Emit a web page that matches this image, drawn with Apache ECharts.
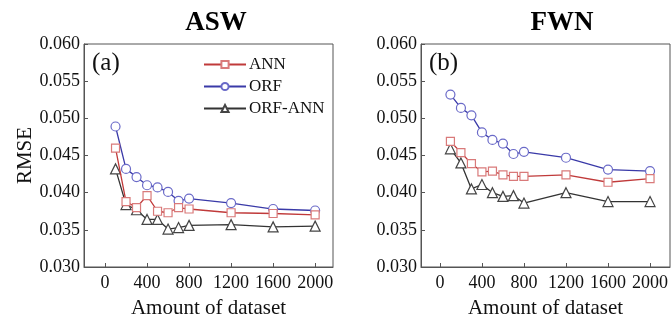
<!DOCTYPE html>
<html><head><meta charset="utf-8">
<script src="https://cdn.jsdelivr.net/npm/echarts@6/dist/echarts.min.js"></script>
<style>html,body{margin:0;padding:0;background:#fff}#c{width:671px;height:322px}</style>
</head><body><div id="c"></div>
<script>
var xValues = [100, 200, 300, 400, 500, 600, 700, 800, 1200, 1600, 2000];
var xTicks = [0, 400, 800, 1200, 1600, 2000];
var yTicks = [0.030, 0.035, 0.040, 0.045, 0.050, 0.055, 0.060];
var panelTitles = ['ASW', 'FWN'];
var panelTags = ['(a)', '(b)'];
var seriesNames = ['ANN', 'ORF', 'ORF-ANN'];
var aswANN    = [0.0460, 0.0388, 0.0380, 0.0396, 0.0375, 0.0373, 0.0380, 0.0378, 0.0373, 0.0372, 0.0370];
var aswORF    = [0.0489, 0.0432, 0.0421, 0.0410, 0.0407, 0.0401, 0.0389, 0.0392, 0.0386, 0.0378, 0.0376];
var aswORFANN = [0.0432, 0.0384, 0.0377, 0.0364, 0.0364, 0.0351, 0.0353, 0.0356, 0.0357, 0.0354, 0.0355];
var fwnANN    = [0.0469, 0.0454, 0.0439, 0.0428, 0.0429, 0.0424, 0.0422, 0.0422, 0.0424, 0.0414, 0.0419];
var fwnORF    = [0.0532, 0.0514, 0.0504, 0.0481, 0.0471, 0.0466, 0.0452, 0.0455, 0.0447, 0.0431, 0.0429];
var fwnORFANN = [0.0459, 0.0440, 0.0405, 0.0411, 0.0400, 0.0395, 0.0396, 0.0386, 0.0400, 0.0388, 0.0388];

var serif = '"Liberation Serif", "DejaVu Serif", serif';
var lineColors = ['#c03a3a', '#3a3aa8', '#333333'];
var markColors = ['#d97a7a', '#6a6ac8', '#444444'];
var symbols = ['rect', 'circle', 'triangle'];
var symbolSizes = [8, 9, 10];

var grids = [
  {left: 84, top: 44, width: 249, height: 223, show: true, borderColor: '#555', borderWidth: 1, outerBoundsMode: 'none', containLabel: false},
  {left: 421, top: 44, width: 249, height: 223, show: true, borderColor: '#555', borderWidth: 1, outerBoundsMode: 'none', containLabel: false}
];
var xRanges = [[-200, 2170], [-180, 2190]];

function pair(vals) { return xValues.map(function (x, i) { return [x, vals[i]]; }); }
var data = [[aswANN, aswORF, aswORFANN], [fwnANN, fwnORF, fwnORFANN]];

var xAxes = [], yAxes = [], series = [];
for (var g = 0; g < 2; g++) {
  xAxes.push({
    type: 'value', gridIndex: g, min: xRanges[g][0], max: xRanges[g][1],
    name: 'Amount of dataset', nameLocation: 'middle', nameGap: 31,
    nameTextStyle: {fontFamily: serif, fontSize: 21, color: '#111'},
    axisLine: {show: true, onZero: false, lineStyle: {color: '#555'}},
    axisTick: {show: true, inside: true, length: 4, customValues: xTicks, lineStyle: {color: '#555'}},
    axisLabel: {customValues: xTicks, fontFamily: serif, fontSize: 18, color: '#111', margin: 7,
      formatter: function (v) { return String(v); }},
    splitLine: {show: false}
  });
  yAxes.push({
    type: 'value', gridIndex: g, min: 0.030, max: 0.060, interval: 0.005,
    name: g === 0 ? 'RMSE' : '', nameLocation: 'middle', nameGap: 48,
    nameTextStyle: {fontFamily: serif, fontSize: 21, color: '#111'},
    axisLine: {show: true, onZero: false, lineStyle: {color: '#555'}},
    axisTick: {show: true, inside: true, length: 4, lineStyle: {color: '#555'}},
    axisLabel: {fontFamily: serif, fontSize: 18, color: '#111', margin: 4,
      formatter: function (v) { return v.toFixed(3); }},
    splitLine: {show: false}
  });
  for (var s = 0; s < 3; s++) {
    series.push({
      type: 'line', name: seriesNames[s], xAxisIndex: g, yAxisIndex: g,
      data: pair(data[g][s]), symbol: symbols[s], symbolSize: symbolSizes[s],
      showAllSymbol: true, z: 3 - s,
      lineStyle: {color: lineColors[s], width: 1.3},
      itemStyle: {color: '#fff', borderColor: markColors[s], borderWidth: 1.2},
      emphasis: {disabled: true}
    });
  }
}

var option = {
  animation: false,
  backgroundColor: '#fff',
  grid: grids,
  xAxis: xAxes,
  yAxis: yAxes,
  legend: {
    orient: 'vertical', left: 203, top: 56, padding: 0,
    data: seriesNames, itemWidth: 42, itemHeight: 9, itemGap: 5,
    textStyle: {fontFamily: serif, fontSize: 17, color: '#111', padding: [0, 0, 0, -2]}
  },
  title: [
    {text: panelTitles[0], left: 211, top: 5, textAlign: 'center',
     textStyle: {fontFamily: serif, fontSize: 27, fontWeight: 'bold', color: '#000'}},
    {text: panelTitles[1], left: 557, top: 5, textAlign: 'center',
     textStyle: {fontFamily: serif, fontSize: 27, fontWeight: 'bold', color: '#000'}},
    {text: panelTags[0], left: 87, top: 46,
     textStyle: {fontFamily: serif, fontSize: 25, fontWeight: 'normal', color: '#111'}},
    {text: panelTags[1], left: 424, top: 46,
     textStyle: {fontFamily: serif, fontSize: 25, fontWeight: 'normal', color: '#111'}}
  ],
  series: series
};
var chart = echarts.init(document.getElementById('c'), null, {renderer: 'canvas'});
chart.setOption(option);
</script></body></html>
